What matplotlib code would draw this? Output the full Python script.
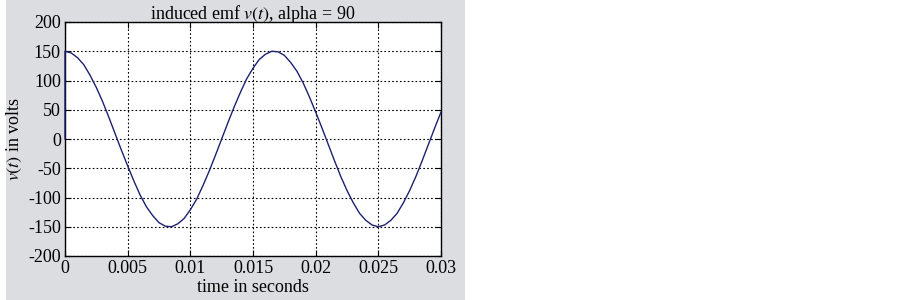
import numpy as np
import matplotlib
matplotlib.use("Agg")
import matplotlib.pyplot as plt
from matplotlib.patches import Rectangle


volts = [150, 147, 139, 127, 109, 88, 64, 37, 9, -19,
         -46, -72, -96, -116, -131, -143, -149, -150, -145, -136,
         -121, -103, -80, -55, -28, 0, 28, 55, 80, 103,
         121, 136, 145, 150, 149, 143, 131, 116, 96, 72,
         46, 19, -9, -37, -64, -88, -109, -127, -139, -147,
         -150, -147, -139, -127, -109, -88, -64, -37, -9, 19,
         46]
t_start = 0.0
t_end = 0.03

x_ticks = [0, 0.005, 0.01, 0.015, 0.02, 0.025, 0.03]
x_labels = ["0", "0.005", "0.01", "0.015", "0.02", "0.025", "0.03"]
y_ticks = [-200, -150, -100, -50, 0, 50, 100, 150, 200]
y_labels = ["-200", "-150", "-100", "-50", "0", "50", "100", "150", "200"]

plt.rcParams["font.family"] = ["Liberation Serif", "DejaVu Serif"]
plt.rcParams["mathtext.fontset"] = "stix"
plt.rcParams["axes.unicode_minus"] = False

t = np.linspace(t_start, t_end, len(volts))
# the trace starts from zero at t = 0 before jumping to the peak
t_plot = np.concatenate([[t_start], t])
v_plot = np.concatenate([[0], volts])

fig = plt.figure(figsize=(9.02, 3.0), dpi=100)
fig.patches.append(Rectangle((6 / 902, 0), 459 / 902, 1,
                             transform=fig.transFigure,
                             facecolor="#dcdde0", edgecolor="none",
                             zorder=-1))

ax = fig.add_axes([65 / 902, 1 - 256 / 300, 376 / 902, 234 / 300])
ax.plot(t_plot, v_plot, color="#1c2170", linewidth=1.0,
        zorder=3, clip_on=False)

ax.set_xlim(t_start, t_end)
ax.set_ylim(-200, 200)
ax.set_xticks(x_ticks)
ax.set_xticklabels(x_labels)
ax.set_yticks(y_ticks)
ax.set_yticklabels(y_labels)
ax.tick_params(direction="in", top=True, right=True, length=4,
               labelsize=13, pad=3)
ax.grid(True, color="black", linestyle=(0, (1.5, 2)), linewidth=0.8)
for s in ax.spines.values():
    s.set_linewidth(1.0)

ax.set_title("induced emf $v(t)$, alpha = 90", fontsize=13, pad=2)
ax.set_xlabel("time in seconds", fontsize=13, labelpad=1)
ax.set_ylabel("$v(t)$ in volts", fontsize=13, labelpad=3)

fig.savefig("out.png", dpi=100)
